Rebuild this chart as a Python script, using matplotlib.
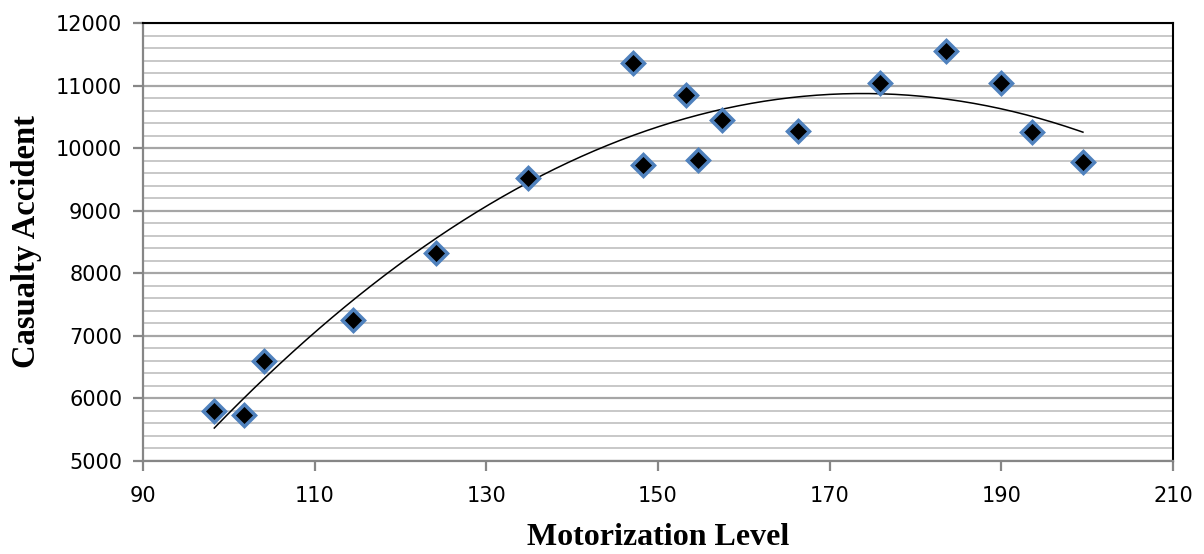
import numpy as np
import matplotlib.pyplot as plt
from matplotlib.ticker import MultipleLocator

# motorization level vs casualty accidents
motor = [98.3, 101.8, 104.1, 114.5, 124.1, 134.9, 147.1, 148.2, 153.3,
         154.7, 157.5, 166.3, 175.9, 183.6, 190.0, 193.6, 199.5]
accid = [5800, 5735, 6600, 7255, 8325, 9525, 11360, 9730, 10850,
         9810, 10450, 10275, 11040, 11550, 11040, 10260, 9780]

xticks = [90, 110, 130, 150, 170, 190, 210]
yticks = [5000, 6000, 7000, 8000, 9000, 10000, 11000, 12000]

# 2nd order polynomial trendline, like the spreadsheet one
coef = np.polyfit(motor, accid, 2)
xt = np.linspace(min(motor), max(motor), 200)
yt = np.polyval(coef, xt)

fig = plt.figure(figsize=(12.04, 5.54), dpi=100)
ax = fig.add_axes([0.1188, 0.1679, 0.8555, 0.7906])

ax.set_xlim(90, 210)
ax.set_ylim(5000, 12000)
ax.set_xticks(xticks)
ax.set_yticks(yticks)
ax.yaxis.set_minor_locator(MultipleLocator(200))

ax.grid(True, which='major', axis='y', color='#a6a6a6', lw=1.6)
ax.grid(True, which='minor', axis='y', color='#c8c8c8', lw=1.4)
ax.set_axisbelow(True)

ax.plot(xt, yt, color='black', lw=1.1, zorder=2)
ax.plot(motor, accid, 'D', color='black', markersize=11.5,
        markeredgecolor='#4f81bd', markeredgewidth=2.5, zorder=3)

for s in ['left', 'bottom']:
    ax.spines[s].set_color('#868686')
    ax.spines[s].set_linewidth(1.6)
for s in ['top', 'right']:
    ax.spines[s].set_color('black')
    ax.spines[s].set_linewidth(1.5)

ax.tick_params(axis='both', which='major', direction='out', length=7,
               width=1.6, color='#868686', labelsize=15, pad=8)
ax.tick_params(axis='y', which='minor', length=0)
ax.tick_params(axis='x', pad=11)
for lab in ax.get_xticklabels() + ax.get_yticklabels():
    lab.set_fontfamily('DejaVu Sans')
    lab.set_color('black')

ax.set_xlabel('Motorization Level', fontfamily='Liberation Serif',
              fontweight='bold', fontsize=23, labelpad=12)
ax.set_ylabel('Casualty Accident', fontfamily='Liberation Serif',
              fontweight='bold', fontsize=23.5, labelpad=10)

fig.savefig('out.png', dpi=100)
